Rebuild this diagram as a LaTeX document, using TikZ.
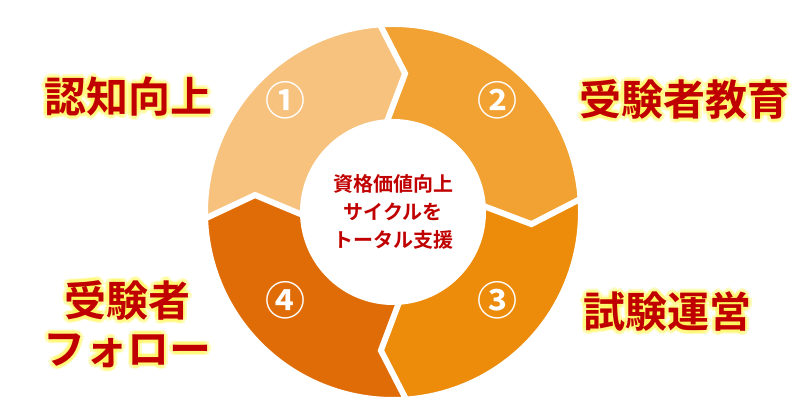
\documentclass[tikz,border=0pt]{standalone}
\usepackage{fontspec}
\usetikzlibrary{calc}
\newfontfamily\jp{Noto Sans CJK JP Bold}
\definecolor{c1}{HTML}{F6C27E}
\definecolor{c2}{HTML}{F1A232}
\definecolor{c3}{HTML}{EC8C0A}
\definecolor{c4}{HTML}{DF6C06}
\definecolor{labred}{HTML}{C00000}
\begin{document}
\begin{tikzpicture}[x=1pt,y=1pt]
\useasboundingbox (0,0) rectangle (406,205);
\coordinate (c) at (196.5,99);
\def\Ro{94}\def\Ri{45}\def\Rm{69.5}\def\dl{9}
\newcommand\seg[3]{% start, end, color
 \filldraw[fill=#3,draw=white,line width=3pt,line join=miter] ($(c)+(#1:\Ro)$) arc[start angle=#1,end angle=#2,radius=\Ro]
  -- ($(c)+(#2-\dl:\Rm)$) -- ($(c)+(#2:\Ri)$)
  arc[start angle=#2,end angle=#1,radius=\Ri]
  -- ($(c)+(#1-\dl:\Rm)$) -- cycle;}
\seg{184}{92}{c1}
\seg{94}{2}{c2}
\seg{4}{-88}{c3}
\seg{-86}{-178}{c4}
\tikzset{num/.style={text=white,font=\jp\fontsize{20}{20}\selectfont},
 lab/.style={text=labred,font=\jp\fontsize{21}{24}\selectfont,align=center},
 glow/.style={text=yellow!70!white,opacity=0.35,font=\jp\fontsize{21}{24}\selectfont,align=center}}
\node[num] (n1) at (142.5,155) {①};
\node[num] (n2) at (248.5,155) {②};
\node[num] (n3) at (248.5,55) {③};
\node[num] (n4) at (142.5,55) {④};
\node[text=labred,font=\jp\fontsize{10}{14}\selectfont,align=center] (ctr) at (c) {資格価値向上\\サイクルを\\トータル支援};
\newcommand\glab[3]{%
 \foreach \a in {0,45,...,315}{\node[glow] at ($(#1)+(\a:2)$) {#3};}
 \node[lab] (#2) at (#1) {#3};}
\glab{64,156.5}{l1}{認知向上}
\glab{342,155}{l2}{受験者教育}
\glab{333.5,49}{l3}{試験運営}
\glab{63.5,43}{l4}{受験者\\フォロー}
\end{tikzpicture}
\end{document}
